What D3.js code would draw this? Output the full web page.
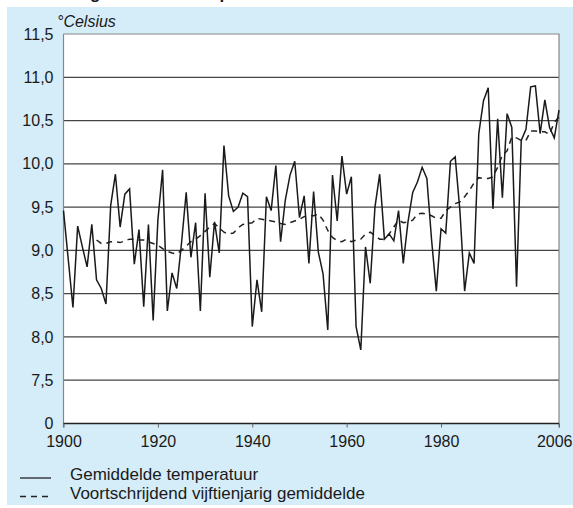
<!DOCTYPE html>
<html>
<head>
<meta charset="utf-8">
<script src="https://cdn.jsdelivr.net/npm/d3@7/dist/d3.min.js"></script>
<style>
  body { margin: 0; background: #fff; }
  svg { display: block; }
  text { font-family: "Liberation Sans", Arial, Helvetica, sans-serif; fill: #1a1a1a; }
</style>
</head>
<body>
<svg id="chart" width="573" height="508"></svg>
<script>
// Annual mean temperature, De Bilt (°C), first year 1900
const firstYear = 1900;
const annualMean = [
  9.46, 8.90, 8.34, 9.28, 9.04, 8.81, 9.30, 8.66, 8.56, 8.38,
  9.52, 9.88, 9.27, 9.65, 9.71, 8.84, 9.24, 8.35, 9.30, 8.19,
  9.35, 9.93, 8.30, 8.74, 8.56, 9.08, 9.67, 8.92, 9.32, 8.30,
  9.66, 8.69, 9.33, 8.97, 10.21, 9.63, 9.45, 9.50, 9.66, 9.62,
  8.12, 8.66, 8.29, 9.62, 9.46, 9.98, 9.10, 9.58, 9.87, 10.03,
  9.38, 9.63, 8.85, 9.68, 8.98, 8.73, 8.08, 9.87, 9.34, 10.09,
  9.65, 9.85, 8.12, 7.85, 9.04, 8.62, 9.50, 9.88, 9.13, 9.19,
  9.11, 9.46, 8.85, 9.33, 9.67, 9.79, 9.96, 9.83, 9.12, 8.53,
  9.25, 9.20, 10.03, 10.08, 9.46, 8.53, 8.97, 8.85, 10.35, 10.73,
  10.88, 9.48, 10.52, 9.61, 10.58, 10.42, 8.58, 10.27, 10.40, 10.89,
  10.90, 10.35, 10.74, 10.42, 10.30, 10.62
];

// Fifteen-year running mean, first year 1907
const runningFirstYear = 1907;
const runningMean = [
  9.12, 9.08, 9.08,
  9.10, 9.10, 9.09, 9.11, 9.13, 9.13, 9.12, 9.12, 9.10, 9.08,
  9.06, 9.02, 8.99, 8.97, 8.96, 9.00, 9.05, 9.10, 9.13, 9.17,
  9.22, 9.27, 9.31, 9.26, 9.21, 9.19, 9.20, 9.26, 9.30, 9.31,
  9.32, 9.37, 9.36, 9.35, 9.34, 9.33, 9.31, 9.30, 9.32, 9.34,
  9.36, 9.39, 9.40, 9.40, 9.42, 9.35, 9.23, 9.15, 9.11, 9.10,
  9.13, 9.10, 9.12, 9.13, 9.19, 9.21, 9.17, 9.13, 9.13, 9.19,
  9.27, 9.35, 9.32, 9.33, 9.35, 9.42, 9.43, 9.42, 9.40, 9.37,
  9.37, 9.46, 9.50, 9.54, 9.56, 9.62, 9.69, 9.78, 9.84, 9.83,
  9.83, 9.85, 9.96, 10.10, 10.15, 10.31, 10.30, 10.27, 10.27, 10.38,
  10.38, 10.37, 10.37, 10.34, 10.48, 10.54
];

const xTickYears  = [1900, 1920, 1940, 1960, 1980, 2005];
const xTickLabels = ["1900", "1920", "1940", "1960", "1980", "2006"];
const yTickValues = [7, 7.5, 8, 8.5, 9, 9.5, 10, 10.5, 11, 11.5];
const yTickLabels = ["0", "7,5", "8,0", "8,5", "9,0", "9,5", "10,0", "10,5", "11,0", "11,5"];
const gridValues  = [7.5, 8, 8.5, 9, 9.5, 10, 10.5, 11];

const titleText  = "Jaargemiddelde temperatuur";
const unitText   = "°Celsius";
const legendRows = [
  { label: "Gemiddelde temperatuur", dash: null },
  { label: "Voortschrijdend vijftienjarig gemiddelde", dash: "6,5" }
];

const tempSeries = annualMean.map((v, i) => ({ year: firstYear + i, value: v }));
const avgSeries  = runningMean.map((v, i) => ({ year: runningFirstYear + i, value: v }));

const svg = d3.select("#chart");
const plot = { left: 63.5, right: 559, top: 34, bottom: 423.5 };

// title sits above the panel, mostly outside the page top
svg.append("text")
  .attr("x", 55).attr("y", -0.8)
  .style("font-size", "17px").style("font-weight", "bold")
  .text(titleText);
svg.append("rect")
  .attr("x", 7).attr("y", 7).attr("width", 566).attr("height", 498)
  .attr("fill", "#d5ecf9");

const x = d3.scaleLinear()
  .domain([tempSeries[0].year, tempSeries[tempSeries.length - 1].year])
  .range([plot.left, plot.right]);
const y = d3.scaleLinear()
  .domain([yTickValues[0], yTickValues[yTickValues.length - 1]])
  .range([plot.bottom, plot.top]);

svg.append("rect")
  .attr("x", plot.left).attr("y", plot.top)
  .attr("width", plot.right - plot.left).attr("height", plot.bottom - plot.top)
  .attr("fill", "#fff");

// horizontal grid
svg.append("g").selectAll("line").data(gridValues).join("line")
  .attr("x1", plot.left).attr("x2", plot.right)
  .attr("y1", d => y(d)).attr("y2", d => y(d))
  .attr("stroke", "#444").attr("stroke-width", 1.2);

// frame: top and right
svg.append("path")
  .attr("d", `M${plot.left},${y(11.5)}H${plot.right}V${plot.bottom + 4}`)
  .attr("fill", "none").attr("stroke", "#888").attr("stroke-width", 1.2);

// y axis
const yAxis = d3.axisLeft(y)
  .tickValues(yTickValues)
  .tickFormat((d, i) => yTickLabels[i])
  .tickSize(0).tickPadding(10);
const gy = svg.append("g").attr("transform", `translate(${plot.left},0)`).call(yAxis);
gy.select(".domain").attr("stroke", "#888").attr("stroke-width", 1.2)
  .attr("d", `M0,${plot.top}V${plot.bottom + 4}`);
gy.selectAll("text").style("font-size", "16px").attr("fill", "#1a1a1a");

// x axis
const xAxis = d3.axisBottom(x)
  .tickValues(xTickYears)
  .tickFormat((d, i) => xTickLabels[i])
  .tickSize(4).tickPadding(8);
const gx = svg.append("g").attr("transform", `translate(0,${plot.bottom})`).call(xAxis);
gx.select(".domain").attr("stroke", "#222").attr("stroke-width", 1.3)
  .attr("d", `M${plot.left},0H${plot.right}`);
gx.selectAll(".tick line").attr("stroke", "#666");
gx.selectAll("text").style("font-size", "16px").attr("fill", "#1a1a1a");
// last label is flush with the right edge of the page
gx.selectAll(".tick").filter((d, i, n) => i === n.length - 1).select("text")
  .attr("text-anchor", "end").attr("x", 572 - plot.right);

// unit label
svg.append("text")
  .attr("x", 57).attr("y", 27)
  .style("font-size", "16px").style("font-style", "italic")
  .text(unitText);

const line = d3.line().x(d => x(d.year)).y(d => y(d.value));

svg.append("path").datum(avgSeries)
  .attr("d", line)
  .attr("fill", "none").attr("stroke", "#222").attr("stroke-width", 1.5)
  .attr("stroke-dasharray", "6,5");

svg.append("path").datum(tempSeries)
  .attr("d", line)
  .attr("fill", "none").attr("stroke", "#1a1a1a").attr("stroke-width", 1.5)
  .attr("stroke-linejoin", "miter");

// legend
const legend = svg.append("g").selectAll("g").data(legendRows).join("g")
  .attr("transform", (d, i) => `translate(0,${480 + i * 18.5})`);
legend.append("line")
  .attr("x1", 20).attr("x2", 51).attr("y1", -2).attr("y2", -2)
  .attr("stroke", "#222").attr("stroke-width", 1.3)
  .attr("stroke-dasharray", d => d.dash);
legend.append("text")
  .attr("x", 70).attr("y", 0)
  .style("font-size", "17px")
  .text(d => d.label);
</script>
</body>
</html>
